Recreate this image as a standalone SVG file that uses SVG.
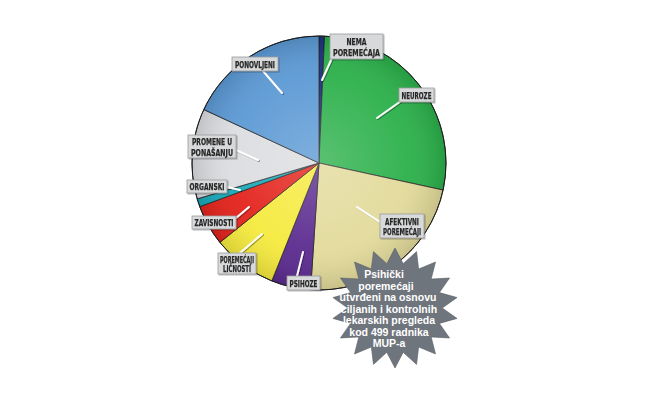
<svg xmlns="http://www.w3.org/2000/svg" width="670" height="400" viewBox="0 0 670 400">
<style>
.sl{stroke:#1e1e1e;stroke-width:0.8;stroke-linejoin:round}
.lb rect{fill:#d8d9da;stroke:#9a9b9d;stroke-width:0.8}
.lb text{font-family:"DejaVu Sans Condensed","DejaVu Sans",sans-serif;font-stretch:condensed;font-weight:bold;font-size:9.5px;fill:#262626;stroke:#262626;stroke-width:0.25;text-anchor:middle}
.ld{stroke:#ffffff;stroke-width:2;stroke-linecap:round;fill:none}
.nt{font-family:"Liberation Sans",Arial,sans-serif;font-weight:bold;font-size:10.5px;fill:#ffffff;text-anchor:middle}
</style>
<defs>
<radialGradient id="shade" cx="319" cy="163" r="127" gradientUnits="userSpaceOnUse">
<stop offset="0" stop-color="#ffffff" stop-opacity="0.22"/>
<stop offset="0.7" stop-color="#ffffff" stop-opacity="0.05"/>
<stop offset="1" stop-color="#000000" stop-opacity="0.12"/>
</radialGradient>
<filter id="sh" x="-10%" y="-10%" width="130%" height="130%">
<feDropShadow dx="1" dy="1" stdDeviation="0.6" flood-color="#000" flood-opacity="0.35"/>
</filter>
</defs>
<rect width="670" height="400" fill="#ffffff"/>
<g id="pie">
<path id="s-nema" class="sl" fill="#1c2f80" d="M319,163 L319,36 A127,127 0 0 1 324.54,36.12 Z"/>
<path id="s-neuroze" class="sl" fill="#2bb04a" d="M319,163 L324.54,36.12 A127,127 0 0 1 443.08,190.05 Z"/>
<path id="s-afektivni" class="sl" fill="#e2da9a" d="M319,163 L443.08,190.05 A127,127 0 0 1 310.58,289.72 Z"/>
<path id="s-psihoze" class="sl" fill="#5a2a8e" d="M319,163 L310.58,289.72 A127,127 0 0 1 271.83,280.92 Z"/>
<path id="s-licnosti" class="sl" fill="#f5ea3d" d="M319,163 L271.83,280.92 A127,127 0 0 1 219.89,242.40 Z"/>
<path id="s-zavisnosti" class="sl" fill="#e3221b" d="M319,163 L219.89,242.40 A127,127 0 0 1 199.73,206.65 Z"/>
<path id="s-organski" class="sl" fill="#17a8b8" d="M319,163 L199.73,206.65 A127,127 0 0 1 197.17,198.85 Z"/>
<path id="s-promene" class="sl" fill="#dcdde0" d="M319,163 L197.17,198.85 A127,127 0 0 1 203.81,109.53 Z"/>
<path id="s-ponovljeni" class="sl" fill="#5b99d4" d="M319,163 L203.81,109.53 A127,127 0 0 1 319,36 Z"/>
<circle cx="319" cy="163" r="127" fill="url(#shade)" stroke="#1e1e1e" stroke-width="1"/>
</g>
<g id="connectors" filter="url(#sh)">
<line class="ld" x1="332" y1="58" x2="322" y2="80"/>
<line class="ld" x1="263" y1="71" x2="282" y2="93"/>
<line class="ld" x1="401" y1="101" x2="377" y2="118"/>
<line class="ld" x1="236" y1="150" x2="258" y2="160"/>
<line class="ld" x1="227" y1="187" x2="240" y2="190"/>
<line class="ld" x1="236" y1="218" x2="249" y2="207"/>
<line class="ld" x1="240" y1="253" x2="262" y2="234"/>
<line class="ld" x1="297" y1="276" x2="303" y2="252"/>
<line class="ld" x1="380" y1="222" x2="357" y2="207"/>
</g>
<g id="label-nema" class="lb" filter="url(#sh)">
<rect x="330" y="34" width="53" height="25"/>
<text x="356.5" y="45" textLength="20" lengthAdjust="spacingAndGlyphs">NEMA</text>
<text x="356.5" y="56" textLength="47" lengthAdjust="spacingAndGlyphs">POREMEĆAJA</text>
</g>
<g id="label-ponovljeni" class="lb" filter="url(#sh)">
<rect x="232" y="57" width="46" height="14"/>
<text x="255" y="67.8" textLength="40" lengthAdjust="spacingAndGlyphs">PONOVLJENI</text>
</g>
<g id="label-neuroze" class="lb" filter="url(#sh)">
<rect x="399" y="88" width="35" height="14"/>
<text x="416.5" y="98.8" textLength="30" lengthAdjust="spacingAndGlyphs">NEUROZE</text>
</g>
<g id="label-promene" class="lb" filter="url(#sh)">
<rect x="188" y="135" width="48" height="23"/>
<text x="212" y="145.3" textLength="40" lengthAdjust="spacingAndGlyphs">PROMENE U</text>
<text x="212" y="155.5" textLength="42" lengthAdjust="spacingAndGlyphs">PONAŠANJU</text>
</g>
<g id="label-organski" class="lb" filter="url(#sh)">
<rect x="187" y="180" width="40" height="13"/>
<text x="207" y="190.2" textLength="35" lengthAdjust="spacingAndGlyphs">ORGANSKI</text>
</g>
<g id="label-zavisnosti" class="lb" filter="url(#sh)">
<rect x="192" y="216" width="44" height="13"/>
<text x="214" y="226.2" textLength="39" lengthAdjust="spacingAndGlyphs">ZAVISNOSTI</text>
</g>
<g id="label-licnosti" class="lb" filter="url(#sh)">
<rect x="218" y="253" width="38" height="21"/>
<text x="237" y="262.8" textLength="34" lengthAdjust="spacingAndGlyphs">POREMEĆAJI</text>
<text x="237" y="272.3" textLength="28" lengthAdjust="spacingAndGlyphs">LIČNOSTI</text>
</g>
<g id="label-psihoze" class="lb" filter="url(#sh)">
<rect x="287" y="276" width="33" height="14"/>
<text x="303.5" y="286.8" textLength="28" lengthAdjust="spacingAndGlyphs">PSIHOZE</text>
</g>
<g id="label-afektivni" class="lb" filter="url(#sh)">
<rect x="380" y="214" width="44" height="24"/>
<text x="402" y="224.8" textLength="34" lengthAdjust="spacingAndGlyphs">AFEKTIVNI</text>
<text x="402" y="235.3" textLength="38" lengthAdjust="spacingAndGlyphs">POREMEĆAJI</text>
</g>
<g id="note">
<polygon transform="translate(395,308) scale(1.05,1)" fill="#6f757d" stroke="#5b6067" stroke-width="0.6" points="0,-60 7.81,-44.32 20.52,-56.38 22.5,-38.97 38.57,-45.96 34.47,-28.93 51.96,-30 42.29,-15.39 59.09,-10.42 45,0 59.09,10.42 42.29,15.39 51.96,30 34.47,28.93 38.57,45.96 22.5,38.97 20.52,56.38 7.81,44.32 0,60 -7.81,44.32 -20.52,56.38 -22.5,38.97 -38.57,45.96 -34.47,28.93 -51.96,30 -42.29,15.39 -59.09,10.42 -45,0 -59.09,-10.42 -42.29,-15.39 -51.96,-30 -34.47,-28.93 -38.57,-45.96 -22.5,-38.97 -20.52,-56.38 -7.81,-44.32"/>
<text class="nt" x="384" y="278">Psihički</text>
<text class="nt" x="386" y="289.5">poremećaji</text>
<text class="nt" x="388" y="301">utvrđeni na osnovu</text>
<text class="nt" x="389" y="312.5">ciljanih i kontrolnih</text>
<text class="nt" x="389" y="324">lekarskih pregleda</text>
<text class="nt" x="389" y="335.5">kod 499 radnika</text>
<text class="nt" x="389" y="347">MUP-a</text>
</g>
</svg>
